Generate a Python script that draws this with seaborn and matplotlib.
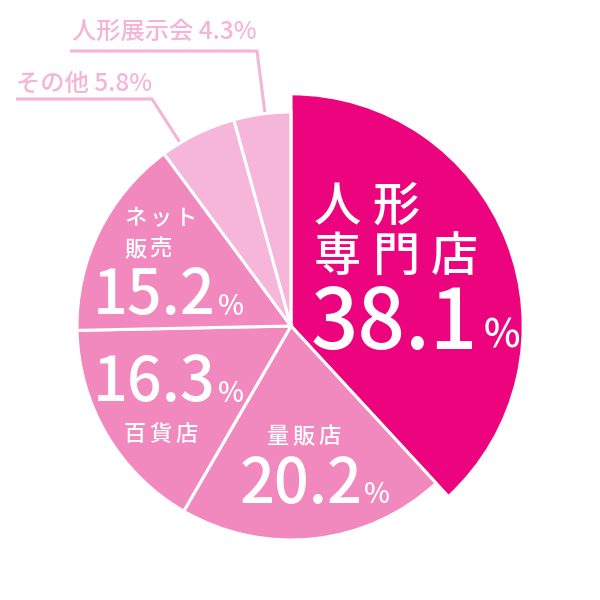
import numpy as np
import matplotlib
matplotlib.use("Agg")
import matplotlib.pyplot as plt
import seaborn as sns

# ---- data ----
categories = ["人形専門店", "量販店", "百貨店", "ネット販売", "その他", "人形展示会"]
values = [38.1, 20.2, 16.3, 15.2, 5.8, 4.3]
colors = ["#EC047E", "#F189BF", "#F189BF", "#F189BF", "#F5B6D9", "#F5B6D9"]

sns.set_theme(style="white")
plt.rcParams["font.family"] = ["Noto Sans CJK JP", "DejaVu Sans"]

W = H = 600
fig = plt.figure(figsize=(6, 6), dpi=100)
ax = fig.add_axes([0, 0, 1, 1])
CX, CY, R = 291, 326, 214.0  # pixel centre and radius (layout)

wedges, _ = ax.pie(values, colors=colors, startangle=90, counterclock=False,
                   radius=1.0, center=(0, 0),
                   wedgeprops=dict(edgecolor="white", linewidth=2.2))
wedges[0].set_radius(1.085)

ax.set_xlim(-CX / R, (W - CX) / R)
ax.set_ylim(-(H - CY) / R, CY / R)
ax.set_aspect("equal")
ax.axis("off")

WT = "medium"


def px(x, y):
    return ((x - CX) / R, (CY - y) / R)


def t(x, y, s, size, color="white", **kw):
    ax.text(*px(x, y), s, fontsize=size, color=color, ha="left", va="baseline",
            fontweight=WT, **kw)


def spaced(x, y, s, size, pitch, color="white"):
    for i, ch in enumerate(s):
        t(x + i * pitch, y, ch, size, color)


# inside labels
spaced(314, 221, "人形", 34, 58.5)
spaced(314, 271, "専門店", 34, 58.5)
t(311, 349, f"{values[0]:.1f}", 60)
t(484, 348, "%", 28)

spaced(267, 443, "量販店", 16, 25.5)
t(240, 503, f"{values[1]:.1f}", 44)
t(364, 503, "%", 20)

t(93, 401, f"{values[2]:.1f}", 44)
t(218, 402, "%", 20)
spaced(124, 441, "百貨店", 16, 25.5)

spaced(124, 225, "ネット", 16, 25.5)
spaced(124, 256, "販売", 16, 25.5)
t(93, 314, f"{values[3]:.1f}", 44)
t(218, 315, "%", 20)

# outside labels with leader lines
pink = "#F4B4D7"
cum = np.cumsum([0] + values[:-1])
tot = sum(values)


def edge_point(i, frac=0.5, r=1.0):
    mid = (cum[i] + values[i] * frac) / tot * 360
    ang = np.deg2rad(90 - mid)
    return r * np.cos(ang), r * np.sin(ang)


t(16, 91, f"{categories[4]} {values[4]:.1f}%", 17.5, color=pink)
ex, ey = edge_point(4, 0.25)
x0, y0 = px(16, 99)
x1, y1 = px(152, 99)
ax.plot([x0, x1, ex], [y0, y1, ey], color=pink, lw=2.2, solid_capstyle="butt", zorder=0)

t(72, 39, f"{categories[5]} {values[5]:.1f}%", 17.5, color=pink)
ex, ey = edge_point(5, 0.55)
x0, y0 = px(70, 51)
x1, y1 = px(257, 51)
ax.plot([x0, x1, ex], [y0, y1, ey], color=pink, lw=2.2, solid_capstyle="butt", zorder=0)

fig.savefig("out.png", dpi=100, facecolor="white")
